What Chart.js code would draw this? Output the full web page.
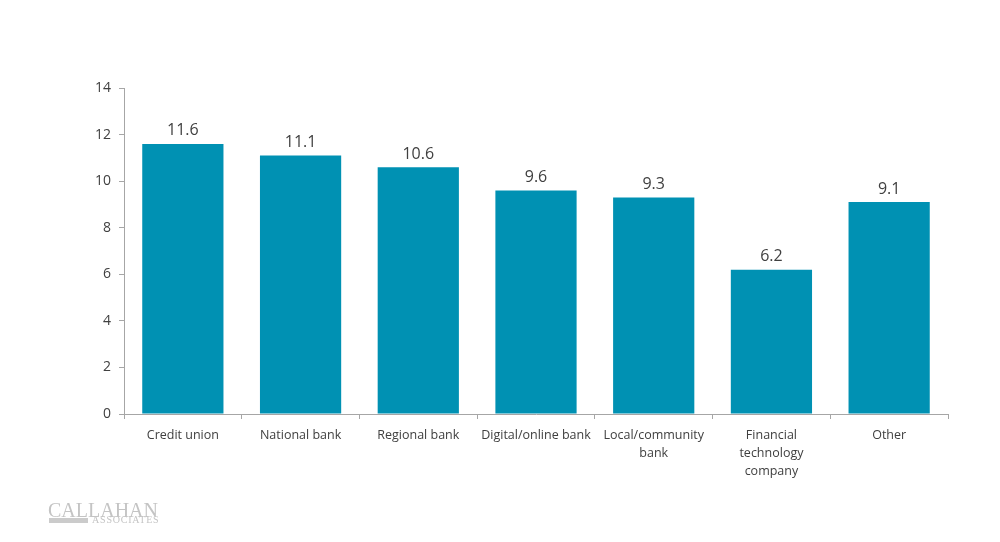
<!DOCTYPE html>
<html>
<head>
<meta charset="utf-8">
<script src="https://cdn.jsdelivr.net/npm/chart.js@4"></script>
<style>
  html, body { margin: 0; padding: 0; background: #fff; }
  #wrap { position: relative; width: 1000px; height: 542px; }
  #logo { position: absolute; left: 48px; top: 500px; width: 120px; height: 30px; font-family: "Liberation Serif", serif; color: #c4c4c4; }
  #logo .big { position: absolute; left: 0; top: 0; font-size: 20px; line-height: 20px; }
  #logo .bar { position: absolute; left: 1px; top: 18px; width: 39px; height: 5px; background: #cbcbcb; }
  #logo .small { position: absolute; left: 44px; top: 15px; font-size: 10px; line-height: 10px; letter-spacing: 0.8px; }
</style>
</head>
<body>
<div id="wrap">
  <canvas id="chart" width="1000" height="542"></canvas>
  <div id="logo"><div class="big">CALLAHAN</div><div class="bar"></div><div class="small">ASSOCIATES</div></div>
</div>
<script>
var categories = ["Credit union", "National bank", "Regional bank", "Digital/online bank", ["Local/community", "bank"], ["Financial", "technology", "company"], "Other"];
var values = [11.6, 11.1, 10.6, 9.6, 9.3, 6.2, 9.1];
var yTicks = [0, 2, 4, 6, 8, 10, 12, 14];

// draws the value above each bar
var valueLabels = {
    id: 'valueLabels',
    afterDatasetsDraw: function (chart) {
        var ctx = chart.ctx;
        var meta = chart.getDatasetMeta(0);
        ctx.save();
        ctx.font = '16px "Open Sans", sans-serif';
        ctx.fillStyle = '#404040';
        ctx.textAlign = 'center';
        ctx.textBaseline = 'bottom';
        meta.data.forEach(function (bar, i) {
            ctx.fillText(values[i].toFixed(1), bar.x, bar.y - 5);
        });
        ctx.restore();
    }
};

var myChart = new Chart(document.getElementById('chart'), {
    type: 'bar',
    data: {
        labels: categories,
        datasets: [{
            data: values,
            backgroundColor: '#0091b3',
            categoryPercentage: 0.69,
            barPercentage: 1.0
        }]
    },
    options: {
        responsive: false,
        animation: false,
        layout: { padding: { top: 88, right: 52, left: 0, bottom: 0 } },
        plugins: { legend: { display: false }, tooltip: { enabled: false } },
        scales: {
            x: {
                grid: { drawOnChartArea: false, color: '#a6a6a6', tickLength: 5, offset: true },
                border: { color: '#a6a6a6' },
                ticks: { color: '#404040', font: { family: '"Open Sans", sans-serif', size: 12.5, lineHeight: 1.45 }, maxRotation: 0, autoSkip: false, padding: 7 },
                afterFit: function (scale) { scale.height = 128; }
            },
            y: {
                min: 0,
                max: 14,
                afterBuildTicks: function (scale) { scale.ticks = yTicks.map(function (v) { return { value: v }; }); },
                grid: { drawOnChartArea: false, color: '#a6a6a6', tickLength: 5 },
                border: { color: '#a6a6a6' },
                ticks: { color: '#404040', font: { family: '"Open Sans", sans-serif', size: 14 }, padding: 8 },
                afterFit: function (scale) { scale.width = 124; }
            }
        }
    },
    plugins: [valueLabels]
});
</script>
</body>
</html>
